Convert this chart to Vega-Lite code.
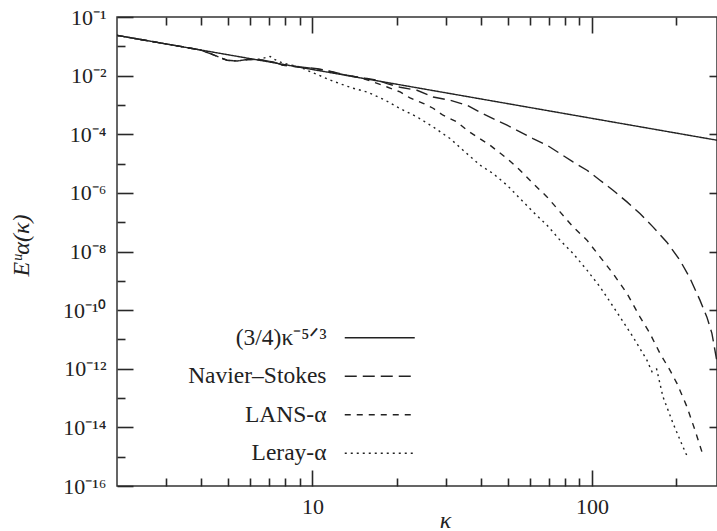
{
  "$schema": "https://vega.github.io/schema/vega-lite/v6.json",
  "width": 600,
  "height": 469,
  "autosize": {"type": "none"},
  "padding": {"left": 117, "top": 17, "right": 0, "bottom": 45},
  "background": "white",
  "config": {
    "font": "Liberation Serif",
    "view": {"stroke": "#333", "strokeWidth": 1.5},
    "axis": {
      "labelFont": "Liberation Serif", "labelFontSize": 22, "labelColor": "#222",
      "ticks": true, "tickColor": "rgb(40,40,40)", "tickWidth": 1.6, "tickOpacity": 1, "domain": false,
      "grid": false, "titleFont": "Liberation Serif", "titleFontSize": 24,
      "titleFontStyle": "italic", "titleFontWeight": "normal", "titleColor": "#222"
    },
    "legend": {
      "orient": "none", "legendX": 251, "legendY": 309, "symbolType": "M-7,0H7",
      "symbolSize": 100, "symbolStrokeWidth": 1.5, "symbolStrokeColor": "#222", "symbolFillColor": "transparent",
      "labelAlign": "right", "labelOffset": -65, "labelFontSize": 23.5, "labelFont": "Liberation Serif",
      "labelColor": "#222", "labelLimit": 400, "rowPadding": 13.5
    }
  },
  "data": {"values": [
    {"series": "(3/4)κ⁻⁵ᐟ³", "k": 2, "E": 0.236},
    {"series": "(3/4)κ⁻⁵ᐟ³", "k": 10, "E": 0.0162},
    {"series": "(3/4)κ⁻⁵ᐟ³", "k": 100, "E": 0.000348},
    {"series": "(3/4)κ⁻⁵ᐟ³", "k": 280, "E": 0.0000626},

    {"series": "Navier–Stokes", "k": 2.0, "E": 0.236},
    {"series": "Navier–Stokes", "k": 2.63, "E": 0.150},
    {"series": "Navier–Stokes", "k": 3.37, "E": 0.0992},
    {"series": "Navier–Stokes", "k": 3.97, "E": 0.0754},
    {"series": "Navier–Stokes", "k": 4.31, "E": 0.0565},
    {"series": "Navier–Stokes", "k": 4.95, "E": 0.0334},
    {"series": "Navier–Stokes", "k": 5.38, "E": 0.0316},
    {"series": "Navier–Stokes", "k": 5.84, "E": 0.0353},
    {"series": "Navier–Stokes", "k": 6.34, "E": 0.0353},
    {"series": "Navier–Stokes", "k": 6.66, "E": 0.0334},
    {"series": "Navier–Stokes", "k": 7.24, "E": 0.0292},
    {"series": "Navier–Stokes", "k": 7.86, "E": 0.0225},
    {"series": "Navier–Stokes", "k": 9.04, "E": 0.0197},
    {"series": "Navier–Stokes", "k": 10.39, "E": 0.0174},
    {"series": "Navier–Stokes", "k": 11.86, "E": 0.0133},
    {"series": "Navier–Stokes", "k": 13.31, "E": 0.0103},
    {"series": "Navier–Stokes", "k": 14.81, "E": 0.00859},
    {"series": "Navier–Stokes", "k": 15.69, "E": 0.00794},
    {"series": "Navier–Stokes", "k": 17.03, "E": 0.00695},
    {"series": "Navier–Stokes", "k": 18.5, "E": 0.00536},
    {"series": "Navier–Stokes", "k": 20.59, "E": 0.00401},
    {"series": "Navier–Stokes", "k": 23.67, "E": 0.00317},
    {"series": "Navier–Stokes", "k": 27.02, "E": 0.00187},
    {"series": "Navier–Stokes", "k": 31.07, "E": 0.00145},
    {"series": "Navier–Stokes", "k": 35.74, "E": 0.000975},
    {"series": "Navier–Stokes", "k": 39.78, "E": 0.000564},
    {"series": "Navier–Stokes", "k": 44.27, "E": 0.000343},
    {"series": "Navier–Stokes", "k": 49.67, "E": 0.000203},
    {"series": "Navier–Stokes", "k": 55.28, "E": 0.000120},
    {"series": "Navier–Stokes", "k": 61.52, "E": 0.0000714},
    {"series": "Navier–Stokes", "k": 69.05, "E": 0.0000422},
    {"series": "Navier–Stokes", "k": 76.84, "E": 0.0000220},
    {"series": "Navier–Stokes", "k": 85.53, "E": 0.0000114},
    {"series": "Navier–Stokes", "k": 95.96, "E": 5.93e-6},
    {"series": "Navier–Stokes", "k": 106.8, "E": 2.71e-6},
    {"series": "Navier–Stokes", "k": 118.9, "E": 1.23e-6},
    {"series": "Navier–Stokes", "k": 133.4, "E": 4.92e-7},
    {"series": "Navier–Stokes", "k": 148.4, "E": 1.98e-7},
    {"series": "Navier–Stokes", "k": 165.2, "E": 6.92e-8},
    {"series": "Navier–Stokes", "k": 185.3, "E": 2.08e-8},
    {"series": "Navier–Stokes", "k": 206.3, "E": 5.06e-9},
    {"series": "Navier–Stokes", "k": 224.1, "E": 1.23e-9},
    {"series": "Navier–Stokes", "k": 243.3, "E": 2.19e-10},
    {"series": "Navier–Stokes", "k": 257.7, "E": 5.77e-11},
    {"series": "Navier–Stokes", "k": 268.5, "E": 1.61e-11},
    {"series": "Navier–Stokes", "k": 275.2, "E": 4.33e-12},
    {"series": "Navier–Stokes", "k": 280, "E": 1.69e-12},

    {"series": "LANS-α", "k": 2.0, "E": 0.236},
    {"series": "LANS-α", "k": 2.63, "E": 0.150},
    {"series": "LANS-α", "k": 3.37, "E": 0.0992},
    {"series": "LANS-α", "k": 3.97, "E": 0.0754},
    {"series": "LANS-α", "k": 4.31, "E": 0.0565},
    {"series": "LANS-α", "k": 4.95, "E": 0.0334},
    {"series": "LANS-α", "k": 5.38, "E": 0.0316},
    {"series": "LANS-α", "k": 5.84, "E": 0.0353},
    {"series": "LANS-α", "k": 6.34, "E": 0.0353},
    {"series": "LANS-α", "k": 6.66, "E": 0.0334},
    {"series": "LANS-α", "k": 7.24, "E": 0.0292},
    {"series": "LANS-α", "k": 7.86, "E": 0.0225},
    {"series": "LANS-α", "k": 9.04, "E": 0.0197},
    {"series": "LANS-α", "k": 10.39, "E": 0.0170},
    {"series": "LANS-α", "k": 11.86, "E": 0.0131},
    {"series": "LANS-α", "k": 13.31, "E": 0.0102},
    {"series": "LANS-α", "k": 14.81, "E": 0.00859},
    {"series": "LANS-α", "k": 16.48, "E": 0.00608},
    {"series": "LANS-α", "k": 18.5, "E": 0.00410},
    {"series": "LANS-α", "k": 20.59, "E": 0.00277},
    {"series": "LANS-α", "k": 22.35, "E": 0.00173},
    {"series": "LANS-α", "k": 24.88, "E": 0.00114},
    {"series": "LANS-α", "k": 27.02, "E": 0.000771},
    {"series": "LANS-α", "k": 29.33, "E": 0.000445},
    {"series": "LANS-α", "k": 32.92, "E": 0.000263},
    {"series": "LANS-α", "k": 35.74, "E": 0.000137},
    {"series": "LANS-α", "k": 38.81, "E": 0.0000811},
    {"series": "LANS-α", "k": 43.18, "E": 0.0000422},
    {"series": "LANS-α", "k": 49.67, "E": 0.0000149},
    {"series": "LANS-α", "k": 55.28, "E": 5.93e-6},
    {"series": "LANS-α", "k": 61.52, "E": 2.09e-6},
    {"series": "LANS-α", "k": 69.05, "E": 7.30e-7},
    {"series": "LANS-α", "k": 76.84, "E": 2.25e-7},
    {"series": "LANS-α", "k": 85.53, "E": 6.92e-8},
    {"series": "LANS-α", "k": 95.96, "E": 2.44e-8},
    {"series": "LANS-α", "k": 106.8, "E": 6.57e-9},
    {"series": "LANS-α", "k": 118.9, "E": 1.78e-9},
    {"series": "LANS-α", "k": 133.4, "E": 3.71e-10},
    {"series": "LANS-α", "k": 148.4, "E": 5.91e-11},
    {"series": "LANS-α", "k": 161.2, "E": 1.61e-11},
    {"series": "LANS-α", "k": 175.0, "E": 3.34e-12},
    {"series": "LANS-α", "k": 190.0, "E": 9.01e-13},
    {"series": "LANS-α", "k": 201.3, "E": 3.17e-13},
    {"series": "LANS-α", "k": 218.6, "E": 5.05e-14},
    {"series": "LANS-α", "k": 233.5, "E": 8.11e-15},
    {"series": "LANS-α", "k": 249.4, "E": 1.14e-15},

    {"series": "Leray-α", "k": 2.0, "E": 0.236},
    {"series": "Leray-α", "k": 2.63, "E": 0.150},
    {"series": "Leray-α", "k": 3.37, "E": 0.0992},
    {"series": "Leray-α", "k": 3.97, "E": 0.0754},
    {"series": "Leray-α", "k": 4.31, "E": 0.0565},
    {"series": "Leray-α", "k": 4.95, "E": 0.0334},
    {"series": "Leray-α", "k": 5.38, "E": 0.0316},
    {"series": "Leray-α", "k": 5.84, "E": 0.0353},
    {"series": "Leray-α", "k": 6.34, "E": 0.0353},
    {"series": "Leray-α", "k": 6.66, "E": 0.0390},
    {"series": "Leray-α", "k": 7.06, "E": 0.0450},
    {"series": "Leray-α", "k": 7.3, "E": 0.0360},
    {"series": "Leray-α", "k": 7.86, "E": 0.0264},
    {"series": "Leray-α", "k": 9.04, "E": 0.0197},
    {"series": "Leray-α", "k": 9.57, "E": 0.0152},
    {"series": "Leray-α", "k": 11.86, "E": 0.00643},
    {"series": "Leray-α", "k": 13.87, "E": 0.00379},
    {"series": "Leray-α", "k": 15.69, "E": 0.00277},
    {"series": "Leray-α", "k": 18.2, "E": 0.00145},
    {"series": "Leray-α", "k": 20.59, "E": 0.000753},
    {"series": "Leray-α", "k": 23.67, "E": 0.000390},
    {"series": "Leray-α", "k": 27.02, "E": 0.000178},
    {"series": "Leray-α", "k": 31.07, "E": 0.0000714},
    {"series": "Leray-α", "k": 34.58, "E": 0.0000285},
    {"series": "Leray-α", "k": 39.78, "E": 8.79e-6},
    {"series": "Leray-α", "k": 44.27, "E": 4.58e-6},
    {"series": "Leray-α", "k": 49.67, "E": 1.83e-6},
    {"series": "Leray-α", "k": 55.28, "E": 6.43e-7},
    {"series": "Leray-α", "k": 61.52, "E": 2.25e-7},
    {"series": "Leray-α", "k": 69.05, "E": 7.91e-8},
    {"series": "Leray-α", "k": 76.84, "E": 2.44e-8},
    {"series": "Leray-α", "k": 85.53, "E": 8.58e-9},
    {"series": "Leray-α", "k": 95.96, "E": 2.31e-9},
    {"series": "Leray-α", "k": 106.8, "E": 6.23e-10},
    {"series": "Leray-α", "k": 113.1, "E": 2.77e-10},
    {"series": "Leray-α", "k": 125.9, "E": 5.91e-11},
    {"series": "Leray-α", "k": 140.1, "E": 1.23e-11},
    {"series": "Leray-α", "k": 157.2, "E": 1.97e-12},
    {"series": "Leray-α", "k": 163.9, "E": 7.87e-13},
    {"series": "Leray-α", "k": 170.3, "E": 9.73e-13},
    {"series": "Leray-α", "k": 179.4, "E": 1.11e-13},
    {"series": "Leray-α", "k": 194.8, "E": 1.40e-14},
    {"series": "Leray-α", "k": 211.5, "E": 2.18e-15},
    {"series": "Leray-α", "k": 220.4, "E": 9.0e-16}
  ]},
  "resolve": {"axis": {"x": "independent", "y": "independent"}},
  "layer": [
    {
      "mark": {"type": "line", "color": "#222", "strokeWidth": 1.4, "clip": true},
      "encoding": {
        "x": {"field": "k", "type": "quantitative",
          "scale": {"type": "log", "domain": [2, 280], "nice": false},
          "axis": {"orient": "bottom", "values": [10, 100], "format": "d", "ticks": false,
            "labelPadding": 10, "title": "κ", "titleX": 328, "titleY": 41,
            "titleBaseline": "alphabetic", "titleAlign": "center"}},
        "y": {"field": "E", "type": "quantitative",
          "scale": {"type": "log", "domain": [1e-16, 1], "nice": false},
          "axis": {"orient": "left", "values": [1, 1e-2, 1e-4, 1e-6, 1e-8, 1e-10, 1e-12, 1e-14, 1e-16],
            "ticks": false, "labelPadding": 11,
            "labelExpr": "datum.value > 0.5 ? '10⁻¹' : '10⁻' + (round(-log(datum.value)/LN10) >= 10 ? '¹' : '') + substring('⁰¹²³⁴⁵⁶⁷⁸⁹', round(-log(datum.value)/LN10) % 10, round(-log(datum.value)/LN10) % 10 + 1)",
            "title": "Eᵘα(κ)", "titleX": -96, "titleY": 228, "titleAngle": -90,
            "titleAlign": "center", "titleBaseline": "middle"}},
        "strokeDash": {"field": "series", "type": "nominal",
          "scale": {"domain": ["(3/4)κ⁻⁵ᐟ³", "Navier–Stokes", "LANS-α", "Leray-α"],
            "range": [[1, 0], [12, 6], [6, 6], [2, 4]]},
          "legend": {"title": null}},
        "detail": {"field": "series"}
      }
    },
    {
      "mark": {"type": "point", "opacity": 0},
      "encoding": {
        "x": {"field": "k", "type": "quantitative",
          "scale": {"type": "log", "domain": [2, 280], "nice": false},
          "axis": {"orient": "bottom", "values": [10, 100], "offset": -16, "ticks": true,
            "tickSize": 16, "labels": false, "title": null}},
        "y": {"field": "E", "type": "quantitative",
          "scale": {"type": "log", "domain": [1e-16, 1], "nice": false},
          "axis": {"orient": "left", "values": [1, 1e-2, 1e-4, 1e-6, 1e-8, 1e-10, 1e-12, 1e-14, 1e-16],
            "offset": -16, "ticks": true, "tickSize": 16, "labels": false, "title": null}}
      }
    },
    {
      "mark": {"type": "point", "opacity": 0},
      "encoding": {
        "x": {"field": "k", "type": "quantitative",
          "scale": {"type": "log", "domain": [2, 280], "nice": false},
          "axis": {"orient": "bottom", "values": [3, 4, 5, 6, 7, 8, 9, 20, 30, 40, 50, 60, 70, 80, 90, 200],
            "offset": -8, "ticks": true, "tickSize": 8, "labels": false, "title": null}},
        "y": {"field": "E", "type": "quantitative",
          "scale": {"type": "log", "domain": [1e-16, 1], "nice": false},
          "axis": {"orient": "left", "values": [1e-1, 1e-3, 1e-5, 1e-7, 1e-9, 1e-11, 1e-13, 1e-15],
            "offset": -8, "ticks": true, "tickSize": 8, "labels": false, "title": null}}
      }
    },
    {
      "mark": {"type": "point", "opacity": 0},
      "encoding": {
        "x": {"field": "k", "type": "quantitative",
          "scale": {"type": "log", "domain": [2, 280], "nice": false},
          "axis": {"orient": "top", "values": [10, 100], "offset": -16, "ticks": true,
            "tickSize": 16, "labels": false, "title": null}},
        "y": {"field": "E", "type": "quantitative",
          "scale": {"type": "log", "domain": [1e-16, 1], "nice": false},
          "axis": {"orient": "right", "values": [1e-2, 1e-4, 1e-6, 1e-8, 1e-10, 1e-12, 1e-14],
            "offset": -8, "ticks": true, "tickSize": 8, "labels": false, "title": null}}
      }
    },
    {
      "mark": {"type": "point", "opacity": 0},
      "encoding": {
        "x": {"field": "k", "type": "quantitative",
          "scale": {"type": "log", "domain": [2, 280], "nice": false},
          "axis": {"orient": "top", "values": [3, 4, 5, 6, 7, 8, 9, 20, 30, 40, 50, 60, 70, 80, 90, 200],
            "offset": -8, "ticks": true, "tickSize": 8, "labels": false, "title": null}},
        "y": {"field": "E", "type": "quantitative",
          "scale": {"type": "log", "domain": [1e-16, 1], "nice": false},
          "axis": null}
      }
    }
  ]
}
